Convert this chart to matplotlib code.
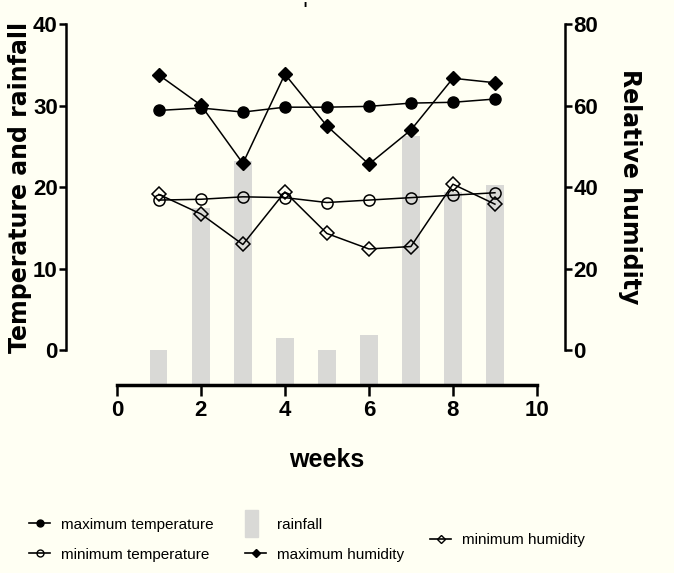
#!/usr/bin/env python3
"""Weekly temperature, rainfall and humidity (Prism-style dual axis)."""

import matplotlib

matplotlib.use("Agg")
import matplotlib.pyplot as plt
from matplotlib.lines import Line2D
from matplotlib.patches import Patch, Rectangle
from matplotlib.legend_handler import HandlerPatch

weeks = [1, 2, 3, 4, 5, 6, 7, 8, 9]
rainfall = [0.0, 17.4, 23.2, 1.5, 0.0, 1.9, 26.3, 19.4, 20.2]
max_temp = [29.4, 29.7, 29.2, 29.8, 29.8, 29.9, 30.3, 30.4, 30.8]
min_temp = [18.4, 18.5, 18.8, 18.7, 18.1, 18.4, 18.7, 19.0, 19.3]
max_hum = [67.5, 60.1, 45.8, 67.7, 55.0, 45.6, 54.0, 66.7, 65.6]
min_hum = [38.2, 33.4, 25.9, 38.8, 28.6, 24.8, 25.4, 40.7, 35.8]

x_ticks = [0, 2, 4, 6, 8, 10]
left_ticks = [0, 10, 20, 30, 40]
right_ticks = [0, 20, 40, 60, 80]

BG = "#FFFFF3"
BAR = "#D9D9D6"
SANS = ["Liberation Sans", "DejaVu Sans"]

fig = plt.figure(figsize=(6.74, 5.73), dpi=100, facecolor=BG)
ax = fig.add_axes([0.098, 0.328, 0.7404, 0.630])
ax.set_facecolor(BG)
ax2 = ax.twinx()

# bars hang from the bottom of the plotting area, like Prism does
ybot = -4.3
ax.set_xlim(-1.21, 10.67)
ax.set_ylim(ybot, 40)
ax2.set_ylim(ybot * 2, 80)

ax.bar(weeks, [r - ybot for r in rainfall], bottom=ybot, width=0.41,
       color=BAR, zorder=1)

lw, ms = 1.1, 8
ax.plot(weeks, max_temp, color="black", lw=lw, marker="o", ms=ms,
        mfc="black", mec="black", zorder=3)
ax.plot(weeks, min_temp, color="black", lw=lw, marker="o", ms=ms,
        mfc="none", mec="black", mew=1.1, zorder=3)
ax2.plot(weeks, max_hum, color="black", lw=lw, marker="D", ms=ms - 1,
         mfc="black", mec="black", zorder=3)
ax2.plot(weeks, min_hum, color="black", lw=lw, marker="D", ms=ms - 1,
         mfc="none", mec="black", mew=1.1, zorder=3)

for a in (ax, ax2):
    a.spines["top"].set_visible(False)
ax.spines["right"].set_visible(False)
ax2.spines["left"].set_visible(False)
ax2.spines["bottom"].set_visible(False)

ax.spines["left"].set_bounds(0, 40)
ax.spines["left"].set_linewidth(1.8)
ax2.spines["right"].set_bounds(0, 80)
ax2.spines["right"].set_linewidth(1.8)
ax.spines["bottom"].set_bounds(0, 10)
ax.spines["bottom"].set_linewidth(2.5)

tick_font = {"family": SANS, "weight": "bold", "size": 16}
ax.set_xticks(x_ticks)
ax.set_xticklabels([str(t) for t in x_ticks], fontdict=tick_font)
ax.set_yticks(left_ticks)
ax.set_yticklabels([str(t) for t in left_ticks], fontdict=tick_font)
ax2.set_yticks(right_ticks)
ax2.set_yticklabels([str(t) for t in right_ticks], fontdict=tick_font)
ax.tick_params(axis="x", length=8, width=1.8, pad=3)
ax.tick_params(axis="y", length=5, width=1.8, pad=1)
ax2.tick_params(axis="y", length=5, width=1.8, pad=1)

ax.set_ylabel("Temperature and rainfall", fontsize=17, fontweight="bold",
              family="DejaVu Sans")
ax.yaxis.set_label_coords(-0.068, 0.548)
ax2.set_ylabel("Relative humidity", fontsize=17, fontweight="bold",
               family="DejaVu Sans", rotation=270, va="center")
ax2.yaxis.set_label_coords(1.13, 0.549)
ax.set_xlabel("weeks", fontsize=18, fontweight="bold", family=SANS)
ax.xaxis.set_label_coords(0.523, -0.175)

fig.text(0.453, 0.982, "'", fontsize=12, fontweight="bold", ha="center", va="center")


def narrow_rect(legend, orig_handle, xdescent, ydescent, width, height, fontsize):
    h = height * 2.5
    return Rectangle((-xdescent, -ydescent + height / 2 - h / 2), width * 0.62, h)


h_maxt = Line2D([], [], color="black", lw=1.2, marker="o", ms=5, mfc="black")
h_mint = Line2D([], [], color="black", lw=1.2, marker="o", ms=5, mfc="none")
h_rain = Patch(color=BAR)
h_maxh = Line2D([], [], color="black", lw=1.2, marker="D", ms=4.5, mfc="black")
h_minh = Line2D([], [], color="black", lw=1.2, marker="D", ms=4.5, mfc="none")

leg_kw = dict(frameon=False, prop={"family": SANS, "size": 11},
              handlelength=1.4, handletextpad=0.7, labelspacing=1.05,
              borderpad=0, borderaxespad=0, loc="center left",
              bbox_transform=fig.transFigure)
fig.legend([h_maxt, h_mint], ["maximum temperature", "minimum temperature"],
           bbox_to_anchor=(0.043, 0.058), **leg_kw)
fig.legend([h_rain, h_maxh], ["rainfall", "maximum humidity"],
           bbox_to_anchor=(0.3635, 0.058),
           handler_map={Patch: HandlerPatch(patch_func=narrow_rect)}, **leg_kw)
fig.legend([h_minh], ["minimum humidity"],
           bbox_to_anchor=(0.638, 0.0576), **leg_kw)

fig.savefig("out.png", dpi=100, facecolor=BG)
